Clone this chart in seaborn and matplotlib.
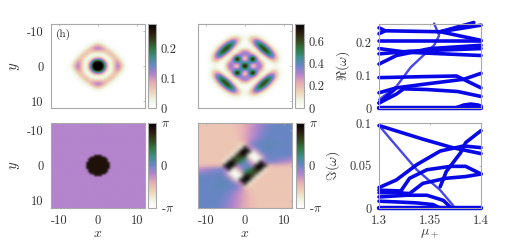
import numpy as np
import pandas as pd
import matplotlib
matplotlib.use("Agg")
import matplotlib.pyplot as plt
import seaborn as sns

# |psi|, quadrant |y| rows / |x| cols, step 1
density_h = [
    [.34, .32, .14, .00, .05, .13, .08, .012, 0, 0],
    [.32, .28, .10, .00, .05, .12, .05, .005, 0, 0],
    [.14, .10, .003, .01, .07, .07, .012, 0, 0, 0],
    [.00, .00, .01, .07, .08, .025, .002, 0, 0, 0],
    [.05, .05, .07, .08, .025, .004, 0, 0, 0, 0],
    [.13, .12, .07, .025, .004, 0, 0, 0, 0, 0],
    [.08, .05, .012, .002, 0, 0, 0, 0, 0, 0],
    [.012, .005, 0, 0, 0, 0, 0, 0, 0, 0],
    [0, 0, 0, 0, 0, 0, 0, 0, 0, 0],
    [0, 0, 0, 0, 0, 0, 0, 0, 0, 0],
]
density_2 = [
    [.98, .42, .00, .30, .40, .10, .00, .00, .03, .00],
    [.42, .42, .38, .34, .30, .06, .00, .09, .11, .02],
    [.00, .38, .98, .38, .06, .00, .12, .30, .20, .04],
    [.30, .34, .38, .12, .00, .16, .52, .50, .18, .03],
    [.40, .30, .06, .00, .20, .62, .66, .34, .08, .01],
    [.10, .06, .00, .16, .62, .70, .44, .13, .02, 0],
    [.00, .00, .12, .52, .66, .44, .15, .03, 0, 0],
    [.00, .09, .30, .50, .34, .13, .03, 0, 0, 0],
    [.03, .11, .20, .18, .08, .02, 0, 0, 0, 0],
    [.00, .02, .04, .03, .01, 0, 0, 0, 0, 0],
]

# phase of the left panel: flat outside, dark disc inside
phase_flat = -0.62
phase_disc = 2.7
disc_halfwidth = [3.0, 2.95, 2.75, 2.45, 2.0, 1.25]

# phase of the right panel, rows y=-12..0, cols x=-12..12 (other half is the 180 deg turn)
phase_2_rows = [
    [-1.7]*9 + [-1.65, -1.55, -1.45, -1.25, -1.05, -.85, -.65, -.45, -.25, -.1, 0, .05, .05, .05, .05, .05],
    [-1.7]*9 + [-1.65, -1.55, -1.45, -1.25, -1.03, -.82, -.6, -.4, -.2, -.08, .02, .05, .05, .05, .05, .05],
    [-1.7]*9 + [-1.65, -1.55, -1.45, -1.22, -1.0, -.78, -.55, -.35, -.15, -.05, .05, .05, .05, .05, .05, .05],
    [-1.7]*9 + [-1.7, -1.6, -1.45, -1.2, -.98, -.72, -.5, -.25, -.1, .02, .05, .05, .05, .05, .05, .05],
    [-1.7]*9 + [-1.7, -1.6, -1.45, -1.2, -.95, -.7, -.45, -.2, -.05, .05, .05, .05, .05, .05, .05, .05],
    [-1.7]*9 + [-1.7, -1.65, -1.5, -1.2, -.8, -.45, -.2, -.05, .05, .08, .1, .1, .05, .05, .05, .05],
    [-1.7]*9 + [-1.7, -1.75, -1.9, -2.0, -.6, -.2, 0, .05, .1, .15, .15, .1, .05, .05, .05, .05],
    [-1.7]*9 + [-1.7, -1.8, -2.8, 3.1, -1.0, -.5, -.2, .1, .15, .15, .1, .05, .05, .05, .05, .05],
    [-1.7]*9 + [-1.8, -2.7, 3.1, 3.1, 3.1, -2.6, -1.0, -.1, .12, .15, .1, .05, .05, .05, .05, .05],
    [-1.7]*8 + [-1.8, -2.8, 2.3, 2.6, 2.9, -3.0, -3.1, -2.6, -1.0, -.2, .1, .1, .05, .05, .05, .05, .05],
    [-1.7]*7 + [-1.8, -2.7, 2.3, 1.7, 1.6, 1.0, -1.6, -2.8, -3.1, -2.6, -.5, -.02, -.05, -.1, -.15, -.2, -.3, -.4],
    [-1.7]*6 + [-1.8, -2.8, 3.1, 2.6, 1.6, .8, .2, -.5, -1.6, -3.0, 3.1, -.6, -.1, -.2, -.3, -.45, -.6, -.7, -.85],
    [-1.6, -1.55, -1.5, -1.45, -1.4, -1.35, -1.6, 3.1, 3.1, 3.0, -.6, -.1, .05, -.1, -.6, 3.0, 3.1, 3.1, -1.6, -1.35, -1.4, -1.45, -1.5, -1.55, -1.6],
]

# Re(omega) branches
re_mu = [
    [1.3, 1.4],
    [1.375, 1.383, 1.39, 1.397, 1.4],
    [1.3, 1.317, 1.324, 1.347, 1.377, 1.4],
    [1.3, 1.343, 1.376, 1.4],
    [1.3, 1.317, 1.344, 1.383, 1.4],
    [1.3, 1.317],
    [1.3, 1.317, 1.331, 1.354, 1.359, 1.354],
    [1.3, 1.317, 1.35, 1.4],
    [1.3, 1.327, 1.4],
    [1.3, 1.33, 1.4],
    [1.3, 1.4],
    [1.3, 1.306, 1.36, 1.4],
    [1.3, 1.306],
    [1.36, 1.393],
    [1.36, 1.4],
]
re_val = [
    [0, 0],
    [0, .009, .012, .009, .006],
    [.015, .042, .058, .056, .05, .035],
    [.092, .095, .097, .061],
    [.015, .061, .072, .087, .105],
    [.046, .061],
    [.025, .065, .123, .19, .22, .256],
    [.133, .159, .18, .19],
    [.18, .169, .159],
    [.164, .172, .18],
    [.202, .202],
    [.243, .234, .231, .205],
    [.225, .234],
    [.231, .259],
    [.231, .251],
]
re_thin = [6]

# Im(omega) branches
im_mu = [
    [1.3, 1.4],
    [1.3, 1.343, 1.372, 1.4],
    [1.3, 1.317, 1.337, 1.36, 1.383, 1.4],
    [1.3, 1.317, 1.337, 1.36, 1.372, 1.374],
    [1.36, 1.366, 1.38, 1.385, 1.4],
    [1.322, 1.33, 1.347, 1.37, 1.385, 1.4],
    [1.3, 1.317, 1.33, 1.343, 1.366, 1.385, 1.4],
    [1.3, 1.327, 1.347, 1.363, 1.37],
    [1.3, 1.32, 1.337, 1.353, 1.36],
    [1.3, 1.322],
]
im_val = [
    [0, 0],
    [.097, .081, .071, .064],
    [.024, .033, .051, .067, .073, .071],
    [.097, .073, .045, .021, .004, 0],
    [.025, .043, .065, .077, .091],
    [.021, .035, .045, .049, .049, .04],
    [.018, .018, .017, .029, .035, .037, .04],
    [.013, .015, .015, .009, .001],
    [.008, .007, .006, .004, 0],
    [.021, .02],
]
im_thin = [3]

cmap_colors = ["#ffffff", "#eef3df", "#efd0b4", "#e6abb4", "#b484cd", "#6c85c8",
               "#3f8f90", "#2f7a45", "#35461c", "#2c1a10", "#000000"]
GREY = "#a8a8a8"
TXT = "#333333"
W, H = 513, 242

sns.set_theme(style="white")
plt.rcParams.update({
    "font.family": ["cmr10", "DejaVu Serif"],
    "mathtext.fontset": "cm",
    "axes.unicode_minus": False,
    "axes.formatter.use_mathtext": True,
    "text.color": TXT,
    "axes.labelcolor": TXT,
    "xtick.color": TXT,
    "ytick.color": TXT,
})
cmap = sns.blend_palette(cmap_colors, as_cmap=True)


def px_axes(fig, x0, y0, x1, y1):
    # rectangle given in picture pixels
    return fig.add_axes([x0 / W, 1 - y1 / H, (x1 - x0) / W, (y1 - y0) / H])


def style_axes(ax):
    for s in ax.spines.values():
        s.set_color(GREY)
        s.set_linewidth(0.8)
    ax.tick_params(length=1.5, width=0.5, direction="in", color=GREY, labelsize=9, top=True, right=True)
    ax.tick_params(axis="x", pad=5)
    ax.tick_params(axis="y", pad=5.5)


def mirror(quad):
    q = np.pad(np.array(quad, dtype=float), ((0, 3), (0, 3)))
    top = np.hstack([q[::-1, :0:-1], q[::-1, :]])
    bot = np.hstack([q[1:, :0:-1], q[1:, :]])
    return np.vstack([top, bot])


def draw_field(fig, box, cbox, field, vmin, vmax, interp, stage, ticks, ticklabels, xlab):
    ax = px_axes(fig, *box)
    cax = px_axes(fig, *cbox)
    n = field.shape[0]
    half = 12 + 12 / (n - 1) if n % 2 else 12
    im = ax.imshow(field, cmap=cmap, vmin=vmin, vmax=vmax, aspect="auto", interpolation=interp,
                   interpolation_stage=stage, extent=[-half, half, half, -half])
    ax.set_xlim(-12, 12)
    ax.set_ylim(12, -12)
    ax.set_xticks([-10, 0, 10])
    ax.set_yticks([-10, 0, 10])
    style_axes(ax)
    ax.grid(False)
    if xlab:
        ax.set_xticklabels(["-10", "0", "10"])
        ax.set_xlabel("$x$", fontsize=10)
        ax.xaxis.set_label_coords(0.5, -0.235)
    else:
        ax.set_xticklabels([])
    cb = fig.colorbar(im, cax=cax)
    cb.set_ticks(ticks)
    cb.set_ticklabels(ticklabels)
    cb.outline.set_edgecolor(GREY)
    cb.outline.set_linewidth(0.8)
    cax.tick_params(length=0, labelsize=9, pad=3.5)
    return ax


def draw_branches(ax, mus, vals, thin):
    for i, (m, v) in enumerate(zip(mus, vals)):
        df = pd.DataFrame({"mu": m, "val": v})
        lw = 1.7 if i in thin else (3.2 if i == 0 else 2.6)
        sns.lineplot(data=df, x="mu", y="val", ax=ax, color="#0808e6", lw=lw, sort=False,
                     alpha=0.75 if i in thin else 1, estimator=None, errorbar=None,
                     clip_on=False, solid_capstyle="round")
    ax.set_xlim(1.3, 1.4)
    ax.set_xticks([1.3, 1.35, 1.4])
    style_axes(ax)
    ax.grid(False)


fig = plt.figure(figsize=(W / 100, H / 100), dpi=100)

# densities
ax1 = draw_field(fig, (51, 24, 145, 108), (148, 24, 156, 108), mirror(density_h), 0, .28, "bicubic", "data",
                 [0, .1, .2], ["0", "0.1", "0.2"], False)
ax1.set_yticklabels(["-10", "0", "10"])
ax1.set_ylabel("$y$", fontsize=10.5)
ax1.yaxis.set_label_coords(-0.31, 0.5)
ax1.text(-10.8, -8.3, "(h)", fontsize=8, color="#222222")

ax2 = draw_field(fig, (198, 24, 292, 108), (295, 24, 304, 108), mirror(density_2), 0, .76, "bicubic", "data",
                 [0, .2, .4, .6], ["0", "0.2", "0.4", "0.6"], False)
ax2.set_yticklabels([])

# phases
coords = np.arange(-11.75, 12, 0.5)
phase_1 = np.full((coords.size, coords.size), phase_flat)
for i, hw in enumerate(disc_halfwidth):
    for yv in (0.25 + 0.5 * i, -0.25 - 0.5 * i):
        row = np.argmin(np.abs(coords - yv))
        phase_1[row, np.abs(coords) < hw] = phase_disc

ax3 = draw_field(fig, (51, 123, 145, 208), (148, 123, 156, 208), phase_1, -np.pi, np.pi, "bicubic", "rgba",
                 [-np.pi, 0, np.pi], ["-$\\pi$", "0", "$\\pi$"], True)
ax3.images[0].set_extent([-12, 12, 12, -12])
ax3.set_yticklabels(["-10", "0", "10"])
ax3.set_ylabel("$y$", fontsize=10.5)
ax3.yaxis.set_label_coords(-0.31, 0.5)

upper = np.array(phase_2_rows)
phase_2 = np.vstack([upper, upper[-2::-1, ::-1]])
ax4 = draw_field(fig, (198, 123, 292, 208), (296, 123, 304, 208), phase_2, -np.pi, np.pi, "bicubic", "rgba",
                 [-np.pi, 0, np.pi], ["-$\\pi$", "0", "$\\pi$"], True)
ax4.set_yticklabels([])

# spectra
ax5 = px_axes(fig, 379, 24, 481, 108)
draw_branches(ax5, re_mu, re_val, re_thin)
ax5.set_ylim(0, .2545)
ax5.set_yticks([0, .1, .2])
ax5.set_yticklabels(["0", "0.1", "0.2"])
ax5.set_xticklabels([])
ax5.set_xlabel("")
ax5.set_ylabel("$\\Re(\\omega)$", fontsize=10)
ax5.yaxis.set_label_coords(-0.265, 0.5)

ax6 = px_axes(fig, 379, 123, 481, 208)
draw_branches(ax6, im_mu, im_val, im_thin)
ax6.set_ylim(0, .1)
ax6.set_yticks([0, .05, .1])
ax6.set_yticklabels(["0", "0.05", "0.1"])
ax6.set_xticklabels(["1.3", "1.35", "1.4"])
ax6.set_xlabel("$\\mu_+$", fontsize=10)
ax6.xaxis.set_label_coords(0.5, -0.235)
ax6.set_ylabel("$\\Im(\\omega)$", fontsize=10)
ax6.yaxis.set_label_coords(-0.36, 0.5)

fig.savefig("out.png", dpi=100)
